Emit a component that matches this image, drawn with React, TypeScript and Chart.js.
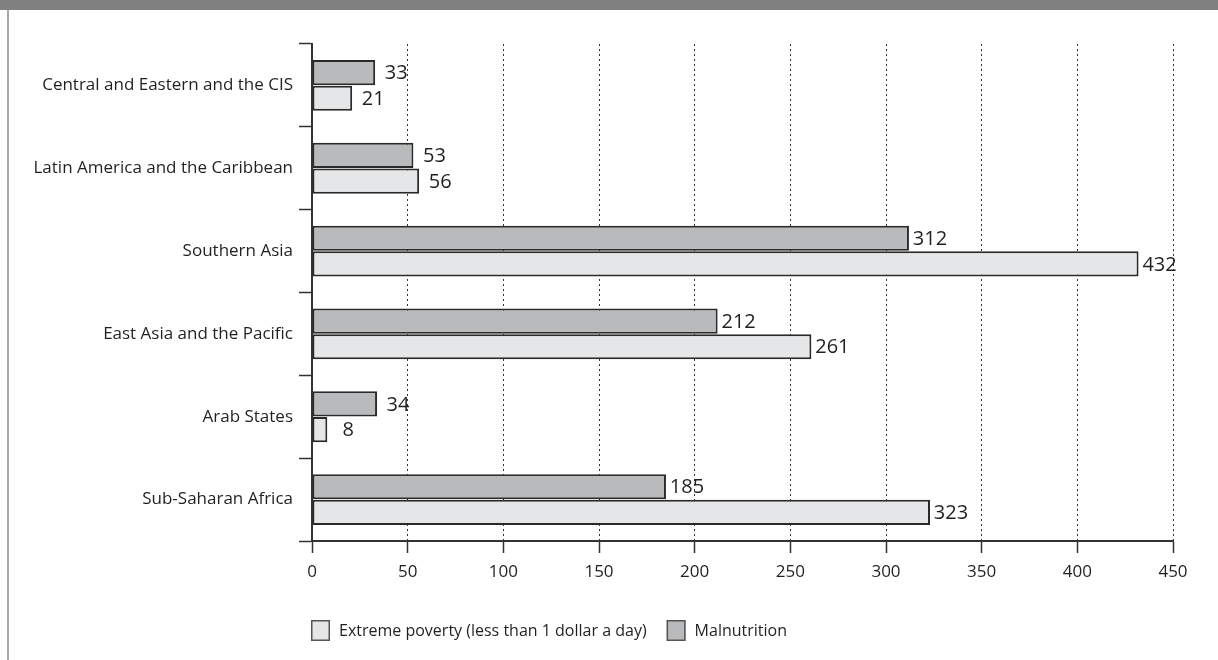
import { useEffect, useRef } from "react";
import { Chart, registerables } from "chart.js";

Chart.register(...registerables);

// Regions, top to bottom
const regions = [
  "Central and Eastern and the CIS",
  "Latin America and the Caribbean",
  "Southern Asia",
  "East Asia and the Pacific",
  "Arab States",
  "Sub-Saharan Africa",
];

// Millions of people
const malnutrition = [33, 53, 312, 212, 34, 185];
const extremePoverty = [21, 56, 432, 261, 8, 323];

const xTickValues = [0, 50, 100, 150, 200, 250, 300, 350, 400, 450];

const legendOrder = ["Extreme poverty (less than 1 dollar a day)", "Malnutrition"];

const FONT = "'Open Sans', 'Noto Sans', sans-serif";
const INK = "#231f20";
const MAL_FILL = "#b9babc";
const POV_FILL = "#e5e6e7";
const BAR_EDGE = "#2a2a2a";

// Value labels centred just past the end of each bar
const valueLabels = {
  id: "valueLabels",
  afterDatasetsDraw(chart: any) {
    const ctx = chart.ctx;
    ctx.save();
    ctx.font = `20px ${FONT}`;
    ctx.fillStyle = INK;
    ctx.textAlign = "center";
    ctx.textBaseline = "middle";
    chart.data.datasets.forEach((ds: any, di: number) => {
      const meta = chart.getDatasetMeta(di);
      meta.data.forEach((bar: any, i: number) => {
        ctx.fillText(String(ds.data[i]), bar.x + 21, bar.y + 1);
      });
    });
    ctx.restore();
  },
};

// Legend row below the axis, starting at the plot's left edge
const bottomLegend = {
  id: "bottomLegend",
  afterDraw(chart: any) {
    const ctx = chart.ctx;
    const area = chart.chartArea;
    ctx.save();
    ctx.font = `16px ${FONT}`;
    ctx.textBaseline = "middle";
    ctx.textAlign = "left";
    let x = area.left - 1;
    const top = 620;
    const boxW = 19;
    const boxH = 21;
    legendOrder.forEach((label) => {
      const ds = chart.data.datasets.find((d: any) => d.label === label);
      ctx.fillStyle = ds.backgroundColor;
      ctx.fillRect(x, top, boxW, boxH);
      ctx.strokeStyle = "#555";
      ctx.lineWidth = 1.5;
      ctx.strokeRect(x + 0.75, top + 0.75, boxW - 1.5, boxH - 1.5);
      const tx = x + boxW + 9;
      ctx.fillStyle = INK;
      ctx.fillText(label, tx, top + boxH / 2 + 1);
      x = tx + ctx.measureText(label).width + 20;
    });
    ctx.restore();
  },
};

function PovertyChart() {
  const canvasRef = useRef<HTMLCanvasElement | null>(null);

  useEffect(() => {
    const canvas = canvasRef.current;
    if (!canvas) return;
    const chart = new Chart(canvas, {
      type: "bar",
      data: {
        labels: regions,
        datasets: [
          {
            label: "Malnutrition",
            data: malnutrition,
            backgroundColor: MAL_FILL,
            borderColor: BAR_EDGE,
            borderWidth: 2,
            borderSkipped: false,
            categoryPercentage: 0.62,
            barPercentage: 0.98,
          },
          {
            label: "Extreme poverty (less than 1 dollar a day)",
            data: extremePoverty,
            backgroundColor: POV_FILL,
            borderColor: BAR_EDGE,
            borderWidth: 2,
            borderSkipped: false,
            categoryPercentage: 0.62,
            barPercentage: 0.98,
          },
        ],
      },
      options: {
        indexAxis: "y",
        responsive: false,
        animation: false,
        devicePixelRatio: 1,
        layout: { padding: { top: 44, right: 45, bottom: 0, left: 0 } },
        plugins: {
          legend: { display: false },
          tooltip: { enabled: false },
        },
        scales: {
          x: {
            type: "linear",
            min: 0,
            max: 450,
            afterBuildTicks(scale: any) {
              scale.ticks = xTickValues.map((v) => ({ value: v }));
            },
            afterFit(scale: any) {
              scale.height = 119;
            },
            grid: {
              color: "#333",
              lineWidth: 1,
              drawTicks: true,
              tickLength: 12,
              tickColor: "#333",
              tickWidth: 1.5,
              tickBorderDash: [],
            },
            border: { display: true, color: "#333", width: 2, dash: [2, 3] },
            ticks: {
              color: INK,
              font: { family: FONT, size: 17 },
              padding: 9,
            },
          },
          y: {
            type: "category",
            afterFit(scale: any) {
              scale.width = 312;
            },
            grid: {
              offset: true,
              drawOnChartArea: false,
              drawTicks: true,
              tickLength: 13,
              color: "#333",
              tickColor: "#333",
              tickWidth: 1.5,
            },
            border: { display: true, color: "#333", width: 2 },
            ticks: {
              color: INK,
              font: { family: FONT, size: 17 },
              padding: 6,
            },
          },
        },
      },
      plugins: [valueLabels, bottomLegend],
    } as any);
    return () => chart.destroy();
  }, []);

  return (
    <canvas
      ref={canvasRef}
      width={1218}
      height={660}
      style={{ position: "absolute", left: 0, top: 0, width: 1218, height: 660, display: "block" }}
    />
  );
}

export default function App() {
  return (
    <div
      style={{
        position: "fixed",
        left: 0,
        top: 0,
        width: 1218,
        height: 660,
        background: "#fff",
        overflow: "hidden",
      }}
    >
      <div style={{ position: "absolute", left: 0, top: 0, width: 1218, height: 10, background: "#808080" }} />
      <div style={{ position: "absolute", left: 7, top: 10, width: 2, height: 650, background: "#a8a8a8" }} />
      <PovertyChart />
    </div>
  );
}
